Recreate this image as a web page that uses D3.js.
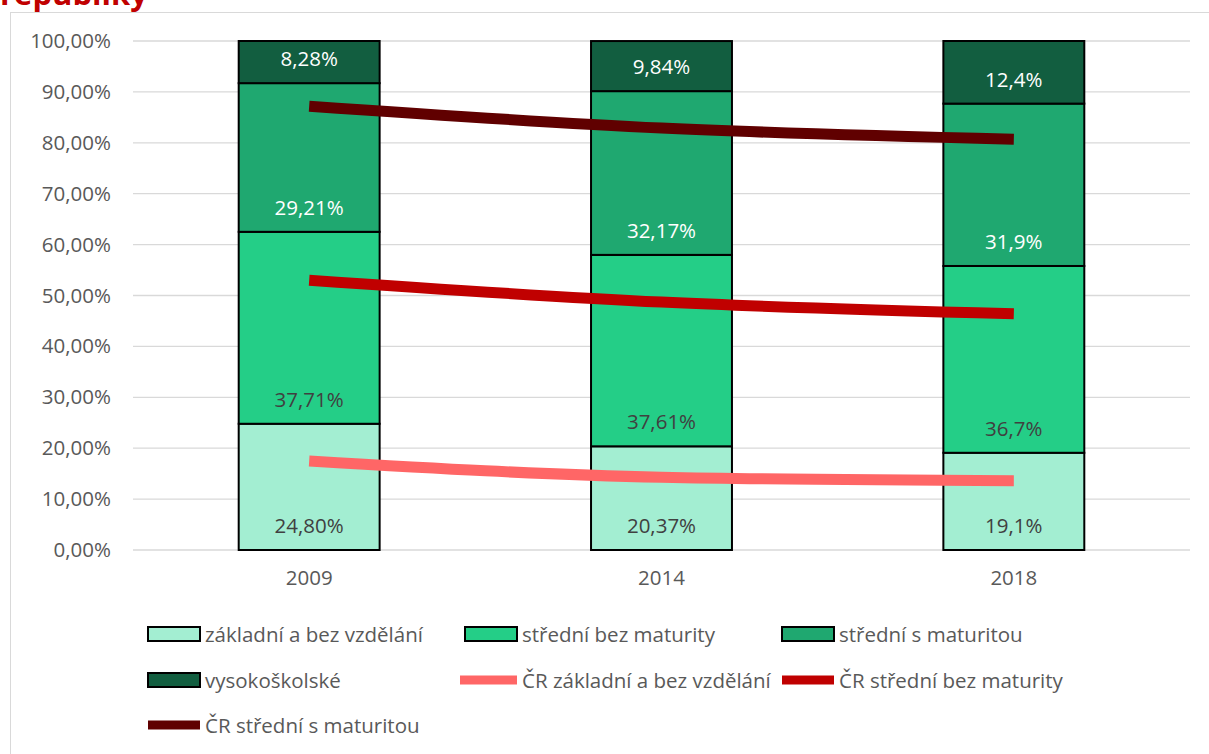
<!DOCTYPE html>
<html>
<head>
<meta charset="utf-8">
<script src="https://cdn.jsdelivr.net/npm/d3@7"></script>
<style>
  body { margin: 0; background: #fff; }
  svg text { font-family: "Open Sans", Lato, sans-serif; }
</style>
</head>
<body>
<div id="chart"></div>
<script>
// data
const years = ["2009", "2014", "2018"];
const barSeries = ["základní a bez vzdělání", "střední bez maturity", "střední s maturitou", "vysokoškolské"];
const barColors = ["#A3EED2", "#24CE87", "#1FA870", "#125E40"];
const zakladni = [24.80, 20.37, 19.1];
const stredniBez = [37.71, 37.61, 36.7];
const stredniS = [29.21, 32.17, 31.9];
const vysoko = [8.28, 9.84, 12.4];
const barLabels = [
  ["24,80%", "20,37%", "19,1%"],
  ["37,71%", "37,61%", "36,7%"],
  ["29,21%", "32,17%", "31,9%"],
  ["8,28%", "9,84%", "12,4%"]
];
const labelColors = ["#404040", "#404040", "#ffffff", "#ffffff"];

const lineSeries = ["ČR základní a bez vzdělání", "ČR střední bez maturity", "ČR střední s maturitou"];
const lineColors = ["#FF6666", "#C00000", "#600000"];
const crZakladni = [17.5, 14.3, 13.6];
const crStredniBez = [53.0, 48.7, 46.4];
const crStredniS = [87.2, 82.9, 80.7];

const yTicks = [0, 10, 20, 30, 40, 50, 60, 70, 80, 90, 100];

const W = 1209, H = 754;
const margin = { top: 41, left: 133, right: 19, bottom: 204 };
const width = W - margin.left - margin.right,
  height = H - margin.top - margin.bottom;
const fs = 20.5;

const svg = d3.select("#chart").append("svg")
  .attr("width", W).attr("height", H);

// title (cut off at the top in the source) and chart frame
svg.append("text")
  .attr("x", 0).attr("y", 5)
  .attr("fill", "#C00000")
  .attr("font-weight", "bold")
  .attr("font-size", 31)
  .text("republiky");

svg.append("rect")
  .attr("x", 10.5).attr("y", 12.5)
  .attr("width", W).attr("height", H)
  .attr("fill", "none").attr("stroke", "#d9d9d9").attr("stroke-width", 1);

const g = svg.append("g")
  .attr("transform", `translate(${margin.left},${margin.top})`);

const x = d3.scaleBand().domain(years).range([0, width]).paddingInner(0.6).paddingOuter(0.3);
const y = d3.scaleLinear().domain([0, 100]).range([height, 0]);

// gridlines
g.append("g")
  .selectAll("line")
  .data(yTicks)
  .join("line")
  .attr("x1", 0).attr("x2", width)
  .attr("y1", d => y(d)).attr("y2", d => y(d))
  .attr("stroke", "#d9d9d9").attr("stroke-width", 1.3);

// y axis
const yAxis = d3.axisLeft(y).tickValues(yTicks)
  .tickFormat(d => d3.format(".2f")(d).replace(".", ",") + "%")
  .tickSize(0).tickPadding(22);
g.append("g").call(yAxis)
  .call(a => a.select(".domain").remove())
  .selectAll("text")
  .attr("font-size", fs).attr("fill", "#595959");

// x axis
g.append("g")
  .attr("transform", `translate(0,${height})`)
  .call(d3.axisBottom(x).tickSize(0).tickPadding(20))
  .call(a => a.select(".domain").remove())
  .selectAll("text")
  .attr("font-size", fs).attr("fill", "#595959");

// stacked bars
const rows = years.map((yr, i) => ({
  year: yr,
  s0: zakladni[i], s1: stredniBez[i], s2: stredniS[i], s3: vysoko[i]
}));
const stack = d3.stack().keys(["s0", "s1", "s2", "s3"]);
const layers = stack(rows);

layers.forEach((layer, k) => {
  const lg = g.append("g");
  lg.selectAll("rect")
    .data(layer)
    .join("rect")
    .attr("x", d => x(d.data.year))
    .attr("width", x.bandwidth())
    .attr("y", d => y(Math.min(d[1], 100)))
    .attr("height", d => y(d[0]) - y(Math.min(d[1], 100)))
    .attr("fill", barColors[k])
    .attr("stroke", "#000").attr("stroke-width", 2);
});

// lines
const lineData = [crZakladni, crStredniBez, crStredniS];
const line = d3.line()
  .x((d, i) => x(years[i]) + x.bandwidth() / 2)
  .y(d => y(d))
  .curve(d3.curveMonotoneX);
lineData.forEach((vals, k) => {
  g.append("path")
    .datum(vals)
    .attr("d", line)
    .attr("fill", "none")
    .attr("stroke", lineColors[k])
    .attr("stroke-width", 11);
});

// labels (inside base)
layers.forEach((layer, k) => {
  g.append("g").selectAll("text")
    .data(layer)
    .join("text")
    .attr("x", d => x(d.data.year) + x.bandwidth() / 2)
    .attr("y", d => y(d[0]) - 25)
    .attr("text-anchor", "middle")
    .attr("dominant-baseline", "central")
    .attr("font-size", fs)
    .attr("fill", labelColors[k])
    .text((d, i) => barLabels[k][i]);
});

// legend
const legendItems = [
  { name: barSeries[0], type: "bar", color: barColors[0], col: 0, row: 0 },
  { name: barSeries[1], type: "bar", color: barColors[1], col: 1, row: 0 },
  { name: barSeries[2], type: "bar", color: barColors[2], col: 2, row: 0 },
  { name: barSeries[3], type: "bar", color: barColors[3], col: 0, row: 1 },
  { name: lineSeries[0], type: "line", color: lineColors[0], col: 1, row: 1 },
  { name: lineSeries[1], type: "line", color: lineColors[1], col: 2, row: 1 },
  { name: lineSeries[2], type: "line", color: lineColors[2], col: 0, row: 2 }
];
const colX = [148, 465, 782];
const rowY = [634, 680, 725];
const lgd = svg.append("g");
legendItems.forEach(it => {
  const lx = colX[it.col], ly = rowY[it.row];
  if (it.type === "bar") {
    lgd.append("rect")
      .attr("x", lx).attr("y", ly - 7)
      .attr("width", 52).attr("height", 14)
      .attr("fill", it.color).attr("stroke", "#000").attr("stroke-width", 2);
  } else {
    lgd.append("line")
      .attr("x1", it.col === 1 ? lx - 5 : lx).attr("x2", lx + 52)
      .attr("y1", ly).attr("y2", ly)
      .attr("stroke", it.color).attr("stroke-width", 9);
  }
  lgd.append("text")
    .attr("x", lx + 57).attr("y", ly)
    .attr("dominant-baseline", "central")
    .attr("font-size", fs).attr("fill", "#595959")
    .text(it.name);
});
</script>
</body>
</html>
